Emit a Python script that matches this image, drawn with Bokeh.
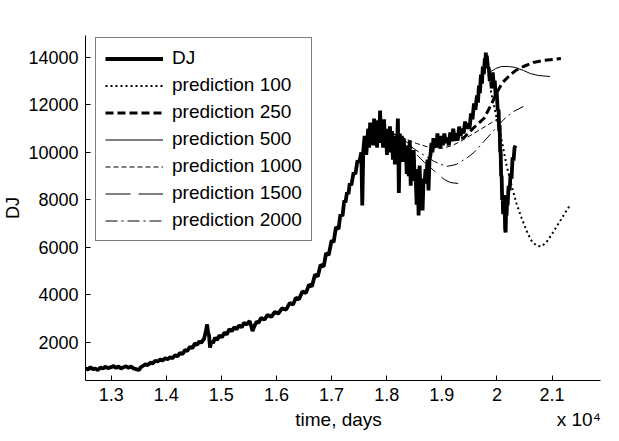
from bokeh.plotting import figure
from bokeh.models import (Range1d, FixedTicker, NumeralTickFormatter, Legend, LegendItem, LinearAxis)
from bokeh.embed import file_html
from bokeh.resources import INLINE

# ---- data (days, Dow Jones index) ----
dj_days = [12534, 12580, 12623, 12670, 12713, 12760, 12803, 12850, 12892, 12940, 13000, 13045,
           13090, 13135, 13179, 13225, 13269, 13315, 13359, 13405, 13449, 13502, 13540, 13574,
           13620, 13664, 13710, 13753, 13800, 13843, 13890, 13933, 13980, 14023, 14070, 14112,
           14160, 14202, 14250, 14292, 14340, 14381, 14430, 14471, 14520, 14561, 14600, 14633,
           14686, 14722, 14740, 14760, 14776, 14794, 14820, 14848, 14885, 14920, 14965, 15009,
           15055, 15099, 15145, 15189, 15235, 15278, 15320, 15368, 15410, 15458, 15512, 15540,
           15565, 15601, 15640, 15673, 15720, 15781, 15840, 15906, 15970, 16032, 16100, 16175,
           16240, 16301, 16350, 16409, 16470, 16534, 16590, 16642, 16700, 16749, 16800, 16857,
           16900, 16947, 17000, 17037, 17080, 17126, 17160, 17198, 17230, 17252, 17280, 17306,
           17330, 17359, 17400, 17431, 17470, 17503, 17539, 17557, 17575, 17600, 17629, 17664,
           17680, 17700, 17720, 17736, 17754, 17772, 17790, 17808, 17826, 17844, 17862, 17880,
           17898, 17916, 17934, 17952, 17969, 17987, 18005, 18023, 18041, 18059, 18077, 18095,
           18113, 18131, 18149, 18167, 18185, 18203, 18221, 18238, 18256, 18274, 18292, 18310,
           18328, 18346, 18364, 18382, 18400, 18418, 18436, 18454, 18472, 18490, 18508, 18526,
           18544, 18561, 18579, 18597, 18615, 18633, 18651, 18669, 18687, 18705, 18723, 18741,
           18759, 18777, 18795, 18813, 18830, 18848, 18866, 18884, 18902, 18920, 18938, 18956,
           18974, 18992, 19019, 19046, 19073, 19100, 19127, 19153, 19180, 19207, 19234, 19261,
           19288, 19315, 19342, 19369, 19396, 19423, 19450, 19476, 19503, 19530, 19557, 19584,
           19611, 19638, 19656, 19674, 19692, 19710, 19728, 19745, 19763, 19781, 19790, 19799,
           19808, 19817, 19835, 19853, 19871, 19889, 19907, 19925, 19943, 19961, 19979, 19997,
           20014, 20032, 20041, 20050, 20059, 20068, 20077, 20086, 20095, 20104, 20113, 20122,
           20131, 20140, 20149, 20158, 20167, 20176, 20185, 20194, 20212, 20230, 20248, 20266,
           20284, 20302, 20320, 20337]
dj_vals = [905, 860, 960, 880, 900, 840, 950, 900, 980, 920, 960, 1010,
           930, 990, 900, 960, 1000, 930, 990, 910, 880, 840, 960, 1010,
           1080, 1040, 1150, 1120, 1230, 1200, 1290, 1240, 1340, 1290, 1380, 1340,
           1460, 1420, 1560, 1510, 1680, 1640, 1820, 1760, 1960, 1900, 2050, 1980,
           2160, 2520, 2760, 2400, 2300, 1790, 2050, 1980, 2200, 2100, 2300, 2220,
           2420, 2340, 2560, 2480, 2640, 2560, 2720, 2640, 2820, 2760, 2900, 2700,
           2480, 2700, 2880, 2820, 3040, 2960, 3160, 3080, 3290, 3220, 3440, 3380,
           3660, 3600, 3880, 3820, 4150, 4080, 4440, 4360, 4860, 4780, 5260, 5200,
           5760, 5680, 6300, 6220, 6860, 6780, 7400, 7320, 7980, 7900, 8320, 8250,
           8700, 8620, 9160, 9080, 9660, 9580, 10000, 7770, 10080, 10700, 9900, 11000,
           10200, 11260, 10400, 11050, 10300, 11430, 10500, 10930, 10200, 11350, 10400, 11770,
           10500, 11100, 10200, 11400, 10300, 10900, 9900, 11000, 10200, 11100, 10000, 10900,
           9700, 10700, 9500, 10600, 10000, 11430, 8300, 10800, 9800, 10700, 9600, 10600,
           9700, 10300, 9100, 10200, 9000, 10500, 8600, 9900, 8900, 10100, 8800, 9000,
           7800, 9300, 7350, 9450, 8200, 8600, 7560, 8900, 8700, 9300, 9000, 9700,
           8400, 9700, 9900, 10400, 10000, 10600, 10200, 10500, 10200, 10800, 10400, 10600,
           10200, 10700, 10300, 10800, 10400, 10630, 10300, 10840, 10500, 11000, 10600, 10800,
           10500, 11090, 10700, 11000, 10800, 11300, 11000, 11220, 11000, 11640, 11400, 12060,
           11800, 12400, 12100, 12820, 12500, 13280, 12900, 13620, 13300, 13960, 13600, 14210,
           13800, 14080, 13600, 13540, 13000, 13110, 12700, 13370, 12820, 13030, 12300, 12520,
           11800, 11770, 10900, 11140, 10000, 10080, 9000, 9030, 8000, 8190, 7400, 7560,
           8200, 7980, 6800, 6630, 7600, 7350, 8000, 7770, 8600, 8400, 9100, 8900,
           9800, 9660, 10200, 10290]

p100_days = [19889, 19997, 20086, 20176, 20266, 20355, 20445, 20535, 20624, 20714, 20804,
             20894, 20983, 21073, 21163, 21252, 21324]
p100_vals = [12609, 11430, 10504, 9452, 8610, 7852, 7263, 6715, 6294, 6084, 6042,
             6210, 6505, 6842, 7178, 7515, 7768]

p250_days = [19136, 19261, 19405, 19584, 19763, 19889, 19997, 20104, 20212, 20337, 20481,
             20660, 20840, 21019, 21163]
p250_vals = [10504, 10546, 10631, 11052, 11430, 11978, 12525, 12946, 13199, 13451, 13620,
             13788, 13872, 13914, 13956]

p500_days = [19835, 19889, 19979, 20086, 20212, 20337, 20481, 20606, 20750, 20965]
p500_vals = [13241, 13409, 13535, 13620, 13620, 13578, 13451, 13325, 13241, 13199]

p1000_days = [18113, 18328, 18543, 18777, 18992, 19189, 19369, 19548, 19727, 19907, 20050]
p1000_vals = [10799, 10588, 10378, 10210, 10167, 10294, 10504, 10757, 11009, 11262, 11473]

p1500_days = [18113, 18292, 18436, 18561, 18687, 18813, 18938, 19046, 19153, 19297]
p1500_vals = [10799, 10588, 10294, 9873, 9578, 9325, 9073, 8862, 8736, 8694]

p2000_days = [18059, 18328, 18597, 18866, 19082, 19261, 19441, 19584, 19763, 19943, 20122,
              20302, 20481]
p2000_vals = [10799, 10420, 9999, 9620, 9410, 9494, 9746, 9999, 10462, 10925, 11388,
              11725, 11936]

x_ticks = [13000, 14000, 15000, 16000, 17000, 18000, 19000, 20000, 21000]
x_tick_labels = ["1.3", "1.4", "1.5", "1.6", "1.7", "1.8", "1.9", "2", "2.1"]
y_ticks = [2000, 4000, 6000, 8000, 10000, 12000, 14000]
x_title = "time, days"
x_scale_note = "x 10\u2074"
x_title_pos = 17126      # centre of the x axis title, in days
x_note_pos = 21486       # centre of the "x 10^4" multiplier note, in days

FONT = "Liberation Sans"

p = figure(width=611, height=437, output_backend="svg", toolbar_location=None,
           x_range=Range1d(12534, 21880), y_range=Range1d(400, 14925),
           min_border_left=79, min_border_right=11, min_border_top=35, min_border_bottom=57)
p.outline_line_color = None
p.grid.visible = False
p.background_fill_color = "white"

r_dj = p.line(dj_days, dj_vals, line_color="black", line_width=3.8)
r100 = p.line(p100_days, p100_vals, line_color="black", line_width=2, line_dash="2 3")
r250 = p.line(p250_days, p250_vals, line_color="black", line_width=3, line_dash="8 4")
r500 = p.line(p500_days, p500_vals, line_color="black", line_width=1)
r1000 = p.line(p1000_days, p1000_vals, line_color="black", line_width=1, line_dash="5 3")
r1500 = p.line(p1500_days, p1500_vals, line_color="black", line_width=1, line_dash="25 8")
r2000 = p.line(p2000_days, p2000_vals, line_color="black", line_width=1, line_dash="12 4 2 4")

for ax in (p.xaxis[0], p.yaxis[0]):
    ax.major_tick_in = 5
    ax.major_tick_out = 0
    ax.minor_tick_in = 0
    ax.minor_tick_out = 0
    ax.axis_line_color = "black"
    ax.major_tick_line_color = "black"
    ax.major_label_text_font = FONT
    ax.major_label_text_font_size = "18px"
    ax.major_label_text_color = "black"
    ax.axis_label_text_font = FONT
    ax.axis_label_text_font_size = "18px"
    ax.axis_label_text_font_style = "normal"
    ax.axis_label_text_color = "black"

p.xaxis.ticker = FixedTicker(ticks=x_ticks)
p.xaxis.major_label_overrides = {t: l for t, l in zip(x_ticks, x_tick_labels)}
p.xaxis.major_label_standoff = 7

p.yaxis.ticker = FixedTicker(ticks=y_ticks)
p.yaxis.formatter = NumeralTickFormatter(format="0")
p.yaxis.major_label_standoff = 7
p.yaxis.axis_label = "DJ"
p.yaxis.axis_label_standoff = 2

# second row under the x axis: axis title and the "x 10^4" multiplier
xa2 = LinearAxis(ticker=FixedTicker(ticks=[x_title_pos, x_note_pos]),
                 major_label_overrides={x_title_pos: x_title, x_note_pos: x_scale_note})
xa2.axis_line_color = None
xa2.major_tick_line_color = None
xa2.minor_tick_line_color = None
xa2.major_tick_in = 0
xa2.major_tick_out = 0
xa2.major_label_standoff = 5
xa2.major_label_text_font = FONT
xa2.major_label_text_font_size = "19px"
xa2.major_label_text_color = "black"
p.add_layout(xa2, "below")

legend = Legend(items=[
    LegendItem(label="DJ", renderers=[r_dj]),
    LegendItem(label="prediction 100", renderers=[r100]),
    LegendItem(label="prediction 250", renderers=[r250]),
    LegendItem(label="prediction 500", renderers=[r500]),
    LegendItem(label="prediction 1000", renderers=[r1000]),
    LegendItem(label="prediction 1500", renderers=[r1500]),
    LegendItem(label="prediction 2000", renderers=[r2000]),
], location=(10, 139))
legend.border_line_color = "black"
legend.border_line_width = 1
legend.background_fill_color = "white"
legend.background_fill_alpha = 1.0
legend.label_text_font = FONT
legend.label_text_font_size = "19px"
legend.label_text_color = "black"
legend.glyph_width = 58
legend.glyph_height = 21
legend.label_height = 21
legend.spacing = 5
legend.padding = 9
legend.label_standoff = 9
legend.margin = 0
p.add_layout(legend)

open("out.html", "w").write(file_html(p, INLINE))
